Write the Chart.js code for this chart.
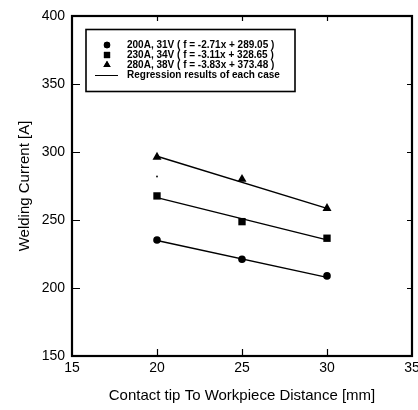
<!DOCTYPE html>
<html>
<head>
<meta charset="utf-8">
<script src="https://cdn.jsdelivr.net/npm/chart.js@4"></script>
<style>
  html, body { margin: 0; padding: 0; background: #fff; }
  #wrap { width: 418px; height: 410px; position: relative; }
</style>
</head>
<body>
<div id="wrap"><canvas id="c" width="418" height="410"></canvas></div>
<script>
// ======= Data =======
const distances = [20, 25, 30];
const current200A = [235.3, 221.1, 208.9];
const current230A = [267.7, 248.8, 236.6];
const current280A = [296.3, 280.0, 258.6];

// regression line ends, at x = 20 and x = 30
const lineEnds = [20, 30];
const fit200A = [234.9, 207.8];
const fit230A = [266.5, 235.4];
const fit280A = [296.9, 258.6];

const legendLabels = [
  "200A, 31V ( f = -2.71x + 289.05 )",
  "230A, 34V ( f = -3.11x + 328.65 )",
  "280A, 38V ( f = -3.83x + 373.48 )",
  "Regression results of each case"
];

const xTicks = [15, 20, 25, 30, 35];
const yTicks = [150, 200, 250, 300, 350, 400];

const pts = (xs, ys) => xs.map((x, i) => ({ x: x, y: ys[i] }));

// ======= Frame + inward ticks =======
const framePlugin = {
  id: "frame",
  afterDraw(chart) {
    const ctx = chart.ctx;
    const a = chart.chartArea;
    const xs = chart.scales.x, ys = chart.scales.y;
    ctx.save();
    ctx.strokeStyle = "#000";
    ctx.lineWidth = 1.2;
    xTicks.slice(1, -1).forEach(v => {
      const px = Math.round(xs.getPixelForValue(v)) + 0.5;
      ctx.beginPath();
      ctx.moveTo(px, a.bottom); ctx.lineTo(px, a.bottom - 7);
      ctx.moveTo(px, a.top); ctx.lineTo(px, a.top + 5);
      ctx.stroke();
    });
    yTicks.slice(1, -1).forEach(v => {
      const py = Math.round(ys.getPixelForValue(v)) + 0.5;
      ctx.beginPath();
      ctx.moveTo(a.left, py); ctx.lineTo(a.left + 8, py);
      ctx.moveTo(a.right, py); ctx.lineTo(a.right - 5, py);
      ctx.stroke();
    });
    ctx.lineWidth = 2.2;
    ctx.strokeRect(a.left, a.top, a.right - a.left, a.bottom - a.top);
    ctx.restore();
  }
};

// ======= Legend box inside the plot =======
const legendPlugin = {
  id: "boxLegend",
  afterDraw(chart) {
    const ctx = chart.ctx;
    ctx.save();
    ctx.strokeStyle = "#000";
    ctx.lineWidth = 1.6;
    ctx.strokeRect(86, 29.5, 209, 62);
    const rows = [45, 55, 65, 75];
    const styles = [
      { pointStyle: "circle", radius: 3.2 },
      { pointStyle: "rect", radius: 4.4 },
      { pointStyle: "triangle", radius: 4.2 }
    ];
    ctx.fillStyle = "#000";
    styles.forEach((s, i) => {
      Chart.helpers.drawPoint(ctx, { pointStyle: s.pointStyle, radius: s.radius, borderWidth: 0, rotation: 0 }, 107, rows[i]);
      ctx.fill();
    });
    ctx.lineWidth = 1;
    ctx.beginPath();
    ctx.moveTo(95, rows[3] + 0.5); ctx.lineTo(118, rows[3] + 0.5);
    ctx.stroke();
    ctx.font = "bold 10px Arial, 'Liberation Sans', sans-serif";
    ctx.textBaseline = "middle";
    legendLabels.forEach((t, i) => ctx.fillText(t, 127, rows[i]));
    ctx.restore();
  }
};

const pointSet = (data, style, r) => ({
  data: data, pointStyle: style, pointRadius: r, pointHoverRadius: r,
  backgroundColor: "#000", borderColor: "#000", borderWidth: 0, showLine: false
});
const lineSet = (data) => ({
  data: data, showLine: true, pointRadius: 0, borderColor: "#000", borderWidth: 1.4, fill: false
});

const tickFont = { family: "Arial, 'Liberation Sans', sans-serif", size: 14 };
const titleFont = { family: "Arial, 'Liberation Sans', sans-serif", size: 15 };

new Chart(document.getElementById("c"), {
  type: "scatter",
  data: {
    datasets: [
      lineSet(pts(lineEnds, fit200A)),
      lineSet(pts(lineEnds, fit230A)),
      lineSet(pts(lineEnds, fit280A)),
      pointSet(pts(distances, current200A), "circle", 3.8),
      pointSet(pts(distances, current230A), "rect", 5.2),
      pointSet(pts(distances, current280A), "triangle", 5.2),
      pointSet([{ x: 20, y: 282 }], "circle", 0.9)
    ]
  },
  options: {
    responsive: false,
    animation: false,
    layout: { padding: { top: 16, right: 6, left: 0, bottom: 0 } },
    plugins: { legend: { display: false }, tooltip: { enabled: false } },
    scales: {
      x: {
        type: "linear", min: 15, max: 35,
        afterBuildTicks: s => { s.ticks = xTicks.map(v => ({ value: v })); },
        grid: { display: false, drawTicks: false },
        border: { display: false },
        ticks: { font: tickFont, color: "#000", padding: 4, maxRotation: 0 },
        title: { display: true, text: "Contact tip To Workpiece Distance [mm]", font: titleFont, color: "#000", padding: { top: 0, bottom: 5 } },
        afterFit: s => { s.height = 54; s.paddingLeft = 0; s.paddingRight = 0; }
      },
      y: {
        type: "linear", min: 150, max: 400,
        afterBuildTicks: s => { s.ticks = yTicks.map(v => ({ value: v })); },
        grid: { display: false, drawTicks: false },
        border: { display: false },
        ticks: { font: tickFont, color: "#000", padding: 7 },
        title: { display: true, text: "Welding Current [A]", font: titleFont, color: "#000", padding: { top: 16, bottom: 0 } },
        afterFit: s => { s.width = 72; s.paddingTop = 0; s.paddingBottom = 0; }
      }
    }
  },
  plugins: [framePlugin, legendPlugin]
});
</script>
</body>
</html>
